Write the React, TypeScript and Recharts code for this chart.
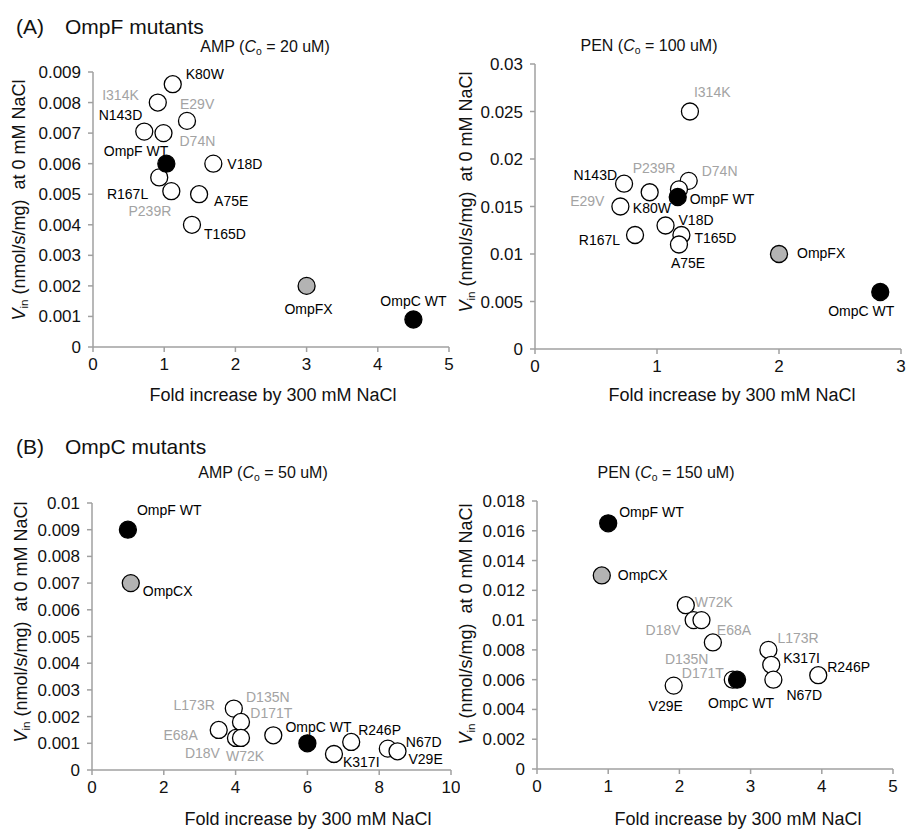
import React from "react";
import { ScatterChart, Scatter, XAxis, YAxis } from "recharts";

// ---- (A) OmpF mutants, AMP (Co = 20 uM)
const ampFMutants = [
  { name: "K80W", x: 1.12, y: 0.0086 },
  { name: "I314K", x: 0.91, y: 0.008 },
  { name: "E29V", x: 1.32, y: 0.0074 },
  { name: "N143D", x: 0.72, y: 0.00705 },
  { name: "D74N", x: 0.99, y: 0.007 },
  { name: "V18D", x: 1.69, y: 0.006 },
  { name: "R167L", x: 0.93, y: 0.00555 },
  { name: "P239R", x: 1.1, y: 0.0051 },
  { name: "A75E", x: 1.49, y: 0.005 },
  { name: "T165D", x: 1.39, y: 0.004 },
];
const ampFChimera = [{ name: "OmpFX", x: 3.0, y: 0.002 }];
const ampFWild = [
  { name: "OmpF WT", x: 1.03, y: 0.006 },
  { name: "OmpC WT", x: 4.5, y: 0.0009 },
];

// ---- (A) OmpF mutants, PEN (Co = 100 uM)
const penFMutants = [
  { name: "I314K", x: 1.27, y: 0.025 },
  { name: "N143D", x: 0.73, y: 0.0174 },
  { name: "P239R", x: 0.94, y: 0.0165 },
  { name: "D74N", x: 1.26, y: 0.0177 },
  { name: "K80W", x: 1.18, y: 0.0168 },
  { name: "E29V", x: 0.7, y: 0.015 },
  { name: "R167L", x: 0.82, y: 0.012 },
  { name: "V18D", x: 1.07, y: 0.013 },
  { name: "T165D", x: 1.2, y: 0.012 },
  { name: "A75E", x: 1.18, y: 0.011 },
];
const penFChimera = [{ name: "OmpFX", x: 2.0, y: 0.01 }];
const penFWild = [
  { name: "OmpF WT", x: 1.17, y: 0.016 },
  { name: "OmpC WT", x: 2.83, y: 0.006 },
];

// ---- (B) OmpC mutants, AMP (Co = 50 uM)
const ampCMutants = [
  { name: "L173R", x: 3.95, y: 0.0023 },
  { name: "D135N", x: 4.15, y: 0.0018 },
  { name: "E68A", x: 3.53, y: 0.0015 },
  { name: "D18V", x: 4.01, y: 0.0012 },
  { name: "W72K", x: 4.15, y: 0.0012 },
  { name: "D171T", x: 5.05, y: 0.0013 },
  { name: "K317I", x: 6.74, y: 0.0006 },
  { name: "R246P", x: 7.22, y: 0.00105 },
  { name: "N67D", x: 8.24, y: 0.0008 },
  { name: "V29E", x: 8.51, y: 0.0007 },
];
const ampCChimera = [{ name: "OmpCX", x: 1.08, y: 0.007 }];
const ampCWild = [
  { name: "OmpF WT", x: 1.0, y: 0.009 },
  { name: "OmpC WT", x: 6.0, y: 0.001 },
];

// ---- (B) OmpC mutants, PEN (Co = 150 uM)
const penCMutants = [
  { name: "W72K", x: 2.09, y: 0.011 },
  { name: "D18V", x: 2.2, y: 0.01 },
  { name: "D135N", x: 2.31, y: 0.01 },
  { name: "E68A", x: 2.47, y: 0.0085 },
  { name: "D171T", x: 2.75, y: 0.006 },
  { name: "V29E", x: 1.92, y: 0.0056 },
  { name: "L173R", x: 3.25, y: 0.008 },
  { name: "K317I", x: 3.29, y: 0.007 },
  { name: "N67D", x: 3.32, y: 0.006 },
  { name: "R246P", x: 3.95, y: 0.0063 },
];
const penCChimera = [{ name: "OmpCX", x: 0.91, y: 0.013 }];
const penCWild = [
  { name: "OmpF WT", x: 1.0, y: 0.0165 },
  { name: "OmpC WT", x: 2.81, y: 0.006 },
];

// tick values
const ampFYTicks = [0, 0.001, 0.002, 0.003, 0.004, 0.005, 0.006, 0.007, 0.008, 0.009];
const ampFXTicks = [0, 1, 2, 3, 4, 5];
const penFYTicks = [0, 0.005, 0.01, 0.015, 0.02, 0.025, 0.03];
const penFXTicks = [0, 1, 2, 3];
const ampCYTicks = [0, 0.001, 0.002, 0.003, 0.004, 0.005, 0.006, 0.007, 0.008, 0.009, 0.01];
const ampCXTicks = [0, 2, 4, 6, 8, 10];
const penCYTicks = [0, 0.002, 0.004, 0.006, 0.008, 0.01, 0.012, 0.014, 0.016, 0.018];
const penCXTicks = [0, 1, 2, 3, 4, 5];

// labels drawn in grey
const greyF = ["I314K", "E29V", "D74N", "P239R"];
const greyC = ["L173R", "D135N", "D171T", "E68A", "D18V", "W72K"];

type Pos = [number, number, "start" | "middle" | "end"];

const ampFLabels: Record<string, Pos> = {
  K80W: [13, -10, "start"],
  I314K: [-19, -7, "end"],
  E29V: [-7, -17, "start"],
  N143D: [-2, -16, "end"],
  D74N: [16, 8, "start"],
  "OmpF WT": [2, -13, "end"],
  V18D: [14, 0, "start"],
  R167L: [-11, 17, "end"],
  P239R: [0, 20, "end"],
  A75E: [15, 7, "start"],
  T165D: [12, 9, "start"],
  OmpFX: [2, 23, "middle"],
  "OmpC WT": [0, -18, "middle"],
};
const penFLabels: Record<string, Pos> = {
  I314K: [4, -19, "start"],
  N143D: [-7, -9, "end"],
  P239R: [-17, -24, "start"],
  D74N: [13, -10, "start"],
  K80W: [-8, 19, "end"],
  E29V: [-16, -5, "end"],
  "OmpF WT": [12, 2, "start"],
  R167L: [-15, 5, "end"],
  V18D: [13, -5, "start"],
  T165D: [13, 3, "start"],
  A75E: [-8, 19, "start"],
  OmpFX: [18, -1, "start"],
  "OmpC WT": [-19, 19, "middle"],
};
const ampCLabels: Record<string, Pos> = {
  "OmpF WT": [9, -20, "start"],
  OmpCX: [12, 8, "start"],
  L173R: [-19, -3, "end"],
  D135N: [5, -25, "start"],
  D171T: [-23, -22, "start"],
  E68A: [-21, 5, "end"],
  D18V: [-16, 15, "end"],
  W72K: [-15, 18, "start"],
  "OmpC WT": [-22, -16, "start"],
  R246P: [7, -12, "start"],
  K317I: [9, 8, "start"],
  N67D: [18, -7, "start"],
  V29E: [11, 8, "start"],
};
const penCLabels: Record<string, Pos> = {
  "OmpF WT": [11, -11, "start"],
  OmpCX: [16, 0, "start"],
  W72K: [9, -3, "start"],
  D18V: [-13, 10, "end"],
  D135N: [7, 39, "end"],
  E68A: [4, -12, "start"],
  D171T: [-9, -7, "end"],
  "OmpC WT": [4, 23, "middle"],
  V29E: [-8, 20, "middle"],
  L173R: [9, -12, "start"],
  K317I: [12, -7, "start"],
  N67D: [13, 15, "start"],
  R246P: [9, -8, "start"],
};

const FONT = '"Liberation Sans", Arial, sans-serif';
const AXIS = "#a0a0a0";

const dot = (fill: string, labels: Record<string, Pos>, grey: string[]) => (props: any) => {
  const { cx, cy, payload } = props;
  const p = labels[payload.name] || [10, 0, "start"];
  return (
    <g>
      <circle cx={cx} cy={cy} r={8.5} fill={fill} stroke="#000" strokeWidth={1.3} />
      <text
        x={cx + p[0]}
        y={cy + p[1]}
        dy="0.35em"
        textAnchor={p[2]}
        fontSize={14}
        fill={grey.includes(payload.name) ? "#a3a3a3" : "#000"}
      >
        {payload.name}
      </text>
    </g>
  );
};

function Panel(props: any) {
  const { left, top, width, height, margin, xMax, xTicks, yMax, yTicks, mutants, chimera, wild, labels, grey } = props;
  const tickStyle = { fontSize: 17, fill: "#111" };
  return (
    <div style={{ position: "absolute", left, top }}>
      <ScatterChart width={width} height={height} margin={margin} style={{ overflow: "visible" }}>
        <XAxis
          type="number"
          dataKey="x"
          domain={[0, xMax]}
          ticks={xTicks}
          height={30}
          stroke={AXIS}
          strokeWidth={1.5}
          tickSize={5}
          tickMargin={6}
          tick={tickStyle}
          interval={0}
        />
        <YAxis
          type="number"
          dataKey="y"
          domain={[0, yMax]}
          ticks={yTicks}
          width={60}
          stroke={AXIS}
          strokeWidth={1.5}
          tickSize={5}
          tickMargin={7}
          tick={tickStyle}
          interval={0}
          tickFormatter={(v: number) => String(v)}
        />
        <Scatter data={mutants} shape={dot("#fff", labels, grey)} isAnimationActive={false} />
        <Scatter data={chimera} shape={dot("#b3b3b3", labels, grey)} isAnimationActive={false} />
        <Scatter data={wild} shape={dot("#000", labels, grey)} isAnimationActive={false} />
      </ScatterChart>
    </div>
  );
}

function Txt({ x, y, size, rotate, left, children }: any) {
  return (
    <div
      style={{
        position: "absolute",
        left: x,
        top: y,
        fontSize: size,
        lineHeight: 1,
        whiteSpace: "nowrap",
        color: "#111",
        transform: left ? "translate(0,-50%)" : `translate(-50%,-50%)${rotate ? " rotate(-90deg)" : ""}`,
      }}
    >
      {children}
    </div>
  );
}

const sub = { fontSize: "0.65em", verticalAlign: "-0.25em", lineHeight: 0 };

const YTitle = () => (
  <span>
    <i>V</i>
    <span style={sub}>in</span> (nmol/s/mg)&nbsp;&nbsp;at 0 mM NaCl
  </span>
);
const Sub = ({ drug, c }: any) => (
  <span>
    {drug} (<i>C</i>
    <span style={sub}>o</span> = {c} uM)
  </span>
);

export default function App() {
  return (
    <div
      style={{
        position: "absolute",
        left: 0,
        top: 0,
        width: 907,
        height: 829,
        background: "#fff",
        fontFamily: FONT,
        overflow: "hidden",
      }}
    >
      <Panel
        left={0}
        top={0}
        width={460}
        height={400}
        margin={{ top: 72, right: 11, bottom: 23, left: 33 }}
        xMax={5}
        xTicks={ampFXTicks}
        yMax={0.009}
        yTicks={ampFYTicks}
        mutants={ampFMutants}
        chimera={ampFChimera}
        wild={ampFWild}
        labels={ampFLabels}
        grey={greyF}
      />
      <Panel
        left={460}
        top={0}
        width={447}
        height={400}
        margin={{ top: 64, right: 6, bottom: 21, left: 15 }}
        xMax={3}
        xTicks={penFXTicks}
        yMax={0.03}
        yTicks={penFYTicks}
        mutants={penFMutants}
        chimera={penFChimera}
        wild={penFWild}
        labels={penFLabels}
        grey={greyF}
      />
      <Panel
        left={0}
        top={400}
        width={460}
        height={429}
        margin={{ top: 103, right: 9, bottom: 29, left: 32 }}
        xMax={10}
        xTicks={ampCXTicks}
        yMax={0.01}
        yTicks={ampCYTicks}
        mutants={ampCMutants}
        chimera={ampCChimera}
        wild={ampCWild}
        labels={ampCLabels}
        grey={greyC}
      />
      <Panel
        left={460}
        top={400}
        width={447}
        height={429}
        margin={{ top: 101, right: 14, bottom: 30, left: 17 }}
        xMax={5}
        xTicks={penCXTicks}
        yMax={0.018}
        yTicks={penCYTicks}
        mutants={penCMutants}
        chimera={penCChimera}
        wild={penCWild}
        labels={penCLabels}
        grey={greyC}
      />

      <Txt x={16} y={26} size={21} left>(A)</Txt>
      <Txt x={65} y={26} size={21} left>OmpF mutants</Txt>
      <Txt x={16} y={446} size={21} left>(B)</Txt>
      <Txt x={65} y={446} size={21} left>OmpC mutants</Txt>

      <Txt x={265} y={47} size={16}><Sub drug="AMP" c="20" /></Txt>
      <Txt x={649} y={46} size={16}><Sub drug="PEN" c="100" /></Txt>
      <Txt x={263} y={473} size={16}><Sub drug="AMP" c="50" /></Txt>
      <Txt x={666} y={473} size={16}><Sub drug="PEN" c="150" /></Txt>

      <Txt x={19} y={200} size={18} rotate><YTitle /></Txt>
      <Txt x={466} y={192} size={18} rotate><YTitle /></Txt>
      <Txt x={21} y={622} size={18} rotate><YTitle /></Txt>
      <Txt x={466} y={624} size={18} rotate><YTitle /></Txt>

      <Txt x={273} y={395} size={18}>Fold increase by 300 mM NaCl</Txt>
      <Txt x={732} y={395} size={18}>Fold increase by 300 mM NaCl</Txt>
      <Txt x={308} y={819} size={18}>Fold increase by 300 mM NaCl</Txt>
      <Txt x={738} y={819} size={18}>Fold increase by 300 mM NaCl</Txt>
    </div>
  );
}
